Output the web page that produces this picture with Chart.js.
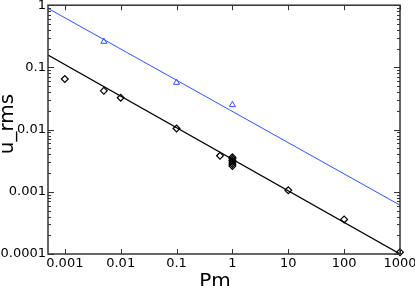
<!DOCTYPE html>
<html>
<head>
<meta charset="utf-8">
<script src="https://cdn.jsdelivr.net/npm/chart.js@4.4.0/dist/chart.umd.min.js"></script>
<style>
  html, body { margin: 0; padding: 0; background: #fff; }
  #wrap { width: 415px; height: 286px; }
</style>
</head>
<body>
<div id="wrap"><canvas id="chart"></canvas></div>
<script>
// Pm values and u_rms for the black diamonds
var diamondPm = [0.001, 0.005, 0.01, 0.1, 0.6, 1, 1, 1, 1, 1, 1, 10, 100, 1000];
var diamondU  = [0.065, 0.042, 0.0325, 0.0104, 0.0038, 0.0036, 0.0034, 0.0032, 0.003, 0.0028, 0.0026, 0.00106, 0.00036, 0.000107];

// blue triangles
var trianglePm = [0.005, 0.1, 1];
var triangleU  = [0.26, 0.057, 0.025];

// fitted lines, end points read at the frame edges
var fitPm    = [0.0005, 1000];
var blackFit = [0.158, 0.0001];
var blueFit  = [0.89, 0.00061];

// tick labels
var xTickValues = [0.001, 0.01, 0.1, 1, 10, 100, 1000];
var xTickLabels = ["0.001", "0.01", "0.1", "1", "10", "100", "1000"];
var yTickValues = [0.0001, 0.001, 0.01, 0.1, 1];
var yTickLabels = ["0.0001", "0.001", "0.01", "0.1", "1"];

var blue = "rgb(45, 85, 255)";
var fontName = "DejaVu Sans";

function pairs(xs, ys) {
  var out = [];
  for (var i = 0; i < xs.length; i++) {
    out.push({x: xs[i], y: ys[i]});
  }
  return out;
}

function fixTicks(values) {
  return function(scale) {
    scale.ticks = values.map(function(v) { return {value: v}; });
  };
}

// frame, inward ticks and axis titles
var framePlugin = {
  id: "framePlugin",
  afterDraw: function(chart) {
    var ctx = chart.ctx;
    var a = chart.chartArea;
    var xs = chart.scales.x;
    var ys = chart.scales.y;
    ctx.save();
    ctx.strokeStyle = "#333";
    ctx.lineWidth = 1;
    ctx.beginPath();
    xTickValues.forEach(function(v) {
      var px = Math.round(xs.getPixelForValue(v)) + 0.5;
      ctx.moveTo(px, a.bottom); ctx.lineTo(px, a.bottom - 5);
      ctx.moveTo(px, a.top); ctx.lineTo(px, a.top + 5);
    });
    for (var d = 0; d < yTickValues.length; d++) {
      var base = yTickValues[d];
      for (var m = 1; m <= 9; m++) {
        var v = base * m;
        if (v > 1.0001) break;
        var py = Math.round(ys.getPixelForValue(v)) + 0.5;
        var len = (m == 1) ? 6 : 3;
        ctx.moveTo(a.left, py); ctx.lineTo(a.left + len, py);
        ctx.moveTo(a.right, py); ctx.lineTo(a.right - len, py);
      }
    }
    ctx.stroke();
    ctx.lineWidth = 1.5;
    ctx.strokeRect(a.left, a.top, a.right - a.left, a.bottom - a.top);

    ctx.fillStyle = "#000";
    ctx.font = "20px '" + fontName + "'";
    ctx.textAlign = "center";
    ctx.textBaseline = "alphabetic";
    ctx.fillText("Pm", a.left + 167, 287);
    ctx.translate(13, 124);
    ctx.rotate(-Math.PI / 2);
    ctx.fillText("u_rms", 0, 0);
    ctx.restore();
  }
};

var chart = new Chart(document.getElementById("chart"), {
  type: "scatter",
  data: {
    datasets: [
      {
        type: "line",
        data: pairs(fitPm, blueFit),
        borderColor: blue,
        borderWidth: 1,
        pointRadius: 0,
        fill: false
      },
      {
        type: "line",
        data: pairs(fitPm, blackFit),
        borderColor: "#000",
        borderWidth: 1.2,
        pointRadius: 0,
        fill: false
      },
      {
        data: pairs(trianglePm, triangleU),
        pointStyle: "triangle",
        pointRadius: 3.5,
        borderColor: blue,
        backgroundColor: "rgba(0,0,0,0)",
        borderWidth: 1,
        clip: false
      },
      {
        data: pairs(diamondPm, diamondU),
        pointStyle: "rectRot",
        pointRadius: 3.4,
        borderColor: "#000",
        backgroundColor: "rgba(0,0,0,0)",
        borderWidth: 1.2,
        clip: false
      }
    ]
  },
  options: {
    responsive: true,
    maintainAspectRatio: false,
    animation: false,
    events: [],
    layout: { padding: { top: 4, right: 15, left: 0, bottom: 0 } },
    plugins: {
      legend: { display: false },
      tooltip: { enabled: false }
    },
    scales: {
      x: {
        type: "logarithmic",
        min: 0.0005,
        max: 1000,
        grid: { display: false, drawTicks: false },
        border: { display: false },
        afterBuildTicks: fixTicks(xTickValues),
        afterFit: function(scale) {
          scale.height = 32;
          scale.paddingLeft = 0;
          scale.paddingRight = 0;
        },
        ticks: {
          autoSkip: false,
          maxRotation: 0,
          padding: 2,
          color: "#000",
          font: { family: fontName, size: 13 },
          callback: function(value) {
            var i = xTickValues.indexOf(value);
            return i >= 0 ? xTickLabels[i] : "";
          }
        }
      },
      y: {
        type: "logarithmic",
        min: 0.0001,
        max: 1,
        grid: { display: false, drawTicks: false },
        border: { display: false },
        afterBuildTicks: fixTicks(yTickValues),
        afterFit: function(scale) {
          scale.width = 48;
          scale.paddingTop = 0;
          scale.paddingBottom = 0;
        },
        ticks: {
          autoSkip: false,
          padding: 2,
          color: "#000",
          font: { family: fontName, size: 13 },
          callback: function(value) {
            var i = yTickValues.indexOf(value);
            return i >= 0 ? yTickLabels[i] : "";
          }
        }
      }
    }
  },
  plugins: [framePlugin]
});
</script>
</body>
</html>
